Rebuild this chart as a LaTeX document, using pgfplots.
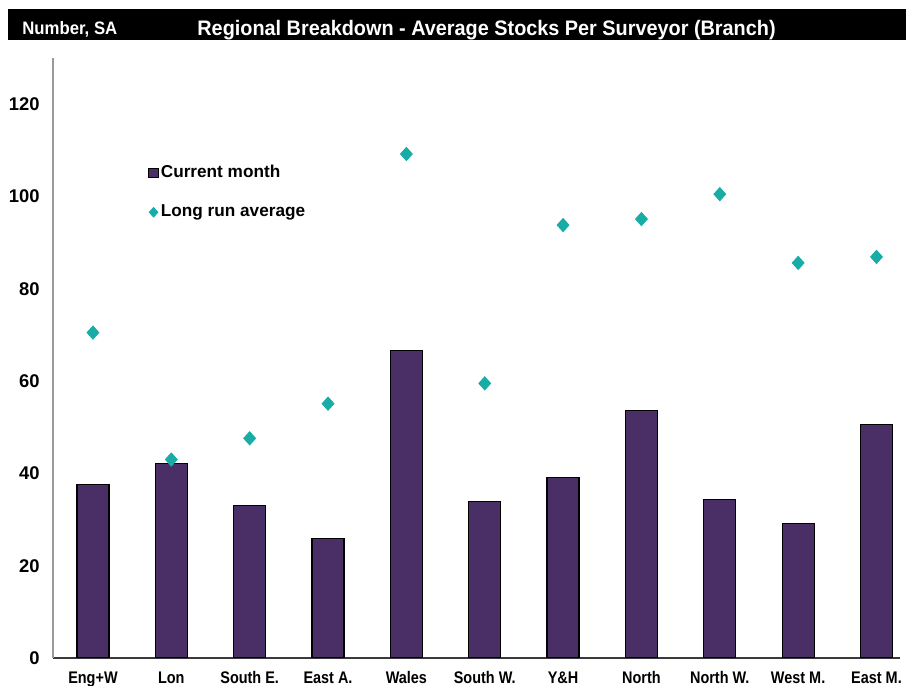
\documentclass[border=0pt]{standalone}
\usepackage{fontspec}
\setmainfont{Liberation Sans}
\newfontfamily\narrowfont[FakeStretch=0.86]{Liberation Sans}
\newfontfamily\headfont[FakeStretch=0.93]{Liberation Sans}
\newfontfamily\titlefont[FakeStretch=0.945]{Liberation Sans}
\usepackage{pgfplots}
\pgfplotsset{compat=1.18}
\definecolor{barcol}{HTML}{4A2F66}
\definecolor{diacol}{HTML}{17ADA6}
\definecolor{yaxcol}{HTML}{9A9A9A}
\definecolor{xaxcol}{HTML}{3A3A3A}
\begin{document}
\begin{tikzpicture}
\path[use as bounding box] (0,0) rectangle (453pt,343pt);
\fill[black] (4pt,323pt) rectangle (453pt,338.5pt);
\node[anchor=base west, inner sep=0, text=white, font=\headfont\bfseries\fontsize{9pt}{10pt}\selectfont] at (11pt,325.5pt) {Number, SA};
\node[anchor=base west, inner sep=0, text=white, font=\titlefont\bfseries\fontsize{10.5pt}{12pt}\selectfont] at (98.5pt,325pt) {Regional Breakdown - Average Stocks Per Surveyor (Branch)};
\begin{axis}[
  at={(26.5pt,14pt)}, anchor=south west,
  scale only axis, width=423.5pt, height=300pt,
  xmin=-0.51, xmax=10.3, ymin=0, ymax=130,
  axis x line=bottom, axis y line=left,
  axis line style={-},
  x axis line style={draw=xaxcol, line width=1pt},
  y axis line style={draw=yaxcol, line width=1pt},
  xtick={0,...,10},
  xticklabels={Eng+W,Lon,South E.,East A.,Wales,South W.,Y\&H,North,North W.,West M.,East M.},
  ytick={0,20,...,120},
  major tick length=0pt,
  /pgf/number format/assume math mode=true,
  x tick label style={font=\narrowfont\bfseries\fontsize{8.4pt}{9pt}\selectfont, inner sep=0pt, anchor=base, yshift=-12.6pt},
  y tick label style={font=\bfseries\fontsize{9.2pt}{10pt}\selectfont, inner sep=0pt, anchor=east, xshift=-6.5pt},
  legend style={draw=none, fill=none, at={(0.112,0.825)}, anchor=north west,
    font=\bfseries\fontsize{8.6pt}{10pt}\selectfont, row sep=10pt, inner sep=0pt,
    nodes={inner sep=1pt}},
  legend cell align=left,
]
\addplot[ybar, bar width=16pt, fill=barcol, draw=black, line width=0.6pt,
  legend image code/.code={\draw[fill=barcol, draw=black, line width=0.5pt] (0pt,-2.4pt) rectangle (4.8pt,2.4pt);}]
  coordinates {(0,37.6) (1,42.2) (2,33.1) (3,25.9) (4,66.6) (5,33.9) (6,39.1) (7,53.6) (8,34.4) (9,29.2) (10,50.6)};
\addlegendentry{Current month}
\addplot[only marks, mark=diamond*, mark size=3.3pt, mark options={xscale=1.2}, draw=diacol, fill=diacol,
  legend image code/.code={\draw[draw=diacol, fill=diacol] plot[mark=diamond*, mark size=2.4pt, mark options={xscale=1.2}] coordinates {(2.4pt,0pt)};}]
  coordinates {(0,70.5) (1,43.0) (2,47.6) (3,55.1) (4,109.2) (5,59.5) (6,93.8) (7,95.1) (8,100.5) (9,85.6) (10,86.9)};
\addlegendentry{Long run average}
\end{axis}
\end{tikzpicture}
\end{document}
